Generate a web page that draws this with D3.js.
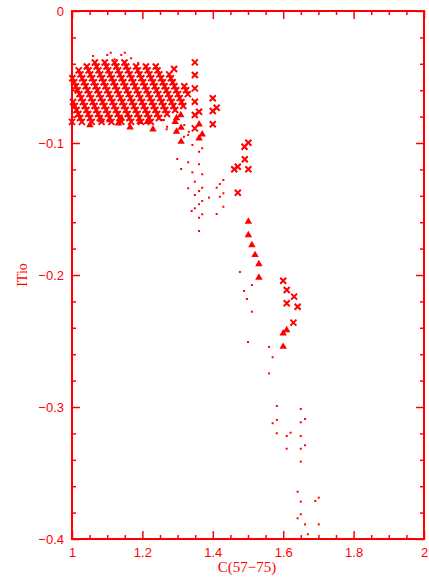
<!DOCTYPE html>
<html>
<head>
<meta charset="utf-8">
<script src="https://cdn.jsdelivr.net/npm/d3@7"></script>
<style>
  body { margin: 0; background: #fff; }
  svg { display: block; }
</style>
</head>
<body>
<div id="chart"></div>
<script>
// model grid (crosses) - one row of x values per y level
const clusterY = [-0.084, -0.081, -0.078, -0.075, -0.072, -0.069, -0.066, -0.063, -0.060, -0.057, -0.054, -0.051, -0.048, -0.045, -0.042, -0.039];
const clusterX = [
  [1.000, 1.028, 1.056, 1.084, 1.112, 1.140, 1.168, 1.196, 1.224],
  [1.023, 1.051, 1.079, 1.107, 1.135, 1.163, 1.191, 1.219, 1.247],
  [1.018, 1.046, 1.074, 1.102, 1.130, 1.158, 1.186, 1.214, 1.242, 1.270],
  [1.013, 1.041, 1.069, 1.097, 1.125, 1.153, 1.181, 1.209, 1.237, 1.265, 1.293],
  [1.008, 1.036, 1.064, 1.092, 1.120, 1.148, 1.176, 1.204, 1.232, 1.260, 1.288, 1.316],
  [1.003, 1.031, 1.059, 1.087, 1.115, 1.143, 1.171, 1.199, 1.227, 1.255, 1.283, 1.311],
  [1.026, 1.054, 1.082, 1.110, 1.138, 1.166, 1.194, 1.222, 1.250, 1.278, 1.306],
  [1.021, 1.049, 1.077, 1.105, 1.133, 1.161, 1.189, 1.217, 1.245, 1.273, 1.301, 1.329],
  [1.016, 1.044, 1.072, 1.100, 1.128, 1.156, 1.184, 1.212, 1.240, 1.268, 1.296, 1.324],
  [1.011, 1.039, 1.067, 1.095, 1.123, 1.151, 1.179, 1.207, 1.235, 1.263, 1.291, 1.319],
  [1.006, 1.034, 1.062, 1.090, 1.118, 1.146, 1.174, 1.202, 1.230, 1.258, 1.286],
  [1.001, 1.029, 1.057, 1.085, 1.113, 1.141, 1.169, 1.197, 1.225, 1.253, 1.281],
  [1.024, 1.052, 1.080, 1.108, 1.136, 1.164, 1.192, 1.220, 1.248, 1.276],
  [1.019, 1.047, 1.075, 1.103, 1.131, 1.159, 1.187, 1.215, 1.243],
  [1.042, 1.070, 1.098, 1.126, 1.154, 1.182, 1.210, 1.238],
  [1.065, 1.093, 1.121, 1.149]
];

// other crosses
const crossX = [1.290, 1.349, 1.349, 1.349, 1.349, 1.361, 1.349, 1.349, 1.400, 1.411, 1.400, 1.400,
  1.501, 1.490, 1.491, 1.471, 1.461, 1.501, 1.471, 1.600, 1.610, 1.631, 1.610, 1.641, 1.629];
const crossY = [-0.0440, -0.0389, -0.0485, -0.0586, -0.0687, -0.0763, -0.0788, -0.0889, -0.0661, -0.0733, -0.0758, -0.0858,
  -0.0998, -0.1028, -0.1123, -0.1180, -0.1199, -0.1199, -0.1377, -0.2043, -0.2114, -0.2164, -0.2214, -0.2240, -0.2361];

// triangles
const triX = [1.051, 1.083, 1.107, 1.132, 1.140, 1.165, 1.193, 1.214, 1.230, 1.293, 1.297, 1.297, 1.309, 1.310, 1.310,
  1.361, 1.370, 1.361, 1.501, 1.501, 1.511, 1.520, 1.531, 1.531, 1.610, 1.600, 1.600];
const triY = [-0.0864, -0.0826, -0.0826, -0.0851, -0.0813, -0.0881, -0.0839, -0.0839, -0.0896, -0.0839, -0.0811, -0.0914, -0.0788, -0.0884, -0.0990,
  -0.0858, -0.0934, -0.0964, -0.1596, -0.1697, -0.1773, -0.1848, -0.1917, -0.2020, -0.2417, -0.2442, -0.2543];

// small dots
const dotX = [1.060, 1.100, 1.110, 1.121, 1.140, 1.150, 1.168, 1.188,
  1.256, 1.270, 1.318, 1.332, 1.261, 1.269, 1.319, 1.330, 1.342, 1.370, 1.361, 1.299, 1.330, 1.361, 1.310, 1.342, 1.370,
  1.430, 1.420, 1.349, 1.330, 1.370, 1.411, 1.361, 1.430, 1.349, 1.420, 1.389, 1.370, 1.361, 1.430, 1.349, 1.340,
  1.411, 1.370, 1.361, 1.361,
  1.477, 1.511, 1.489, 1.497, 1.511, 1.500, 1.560, 1.570, 1.560,
  1.582, 1.650, 1.582, 1.662, 1.570, 1.650, 1.621, 1.582, 1.610, 1.650, 1.662, 1.610, 1.650, 1.650, 1.641,
  1.701, 1.650, 1.691, 1.650, 1.641, 1.701, 1.662, 1.670];
const dotY = [-0.0341, -0.0333, -0.0316, -0.0366, -0.0333, -0.0316, -0.0358, -0.0394,
  -0.0826, -0.0877, -0.0953, -0.0915, -0.0826, -0.0896, -0.0864, -0.0939, -0.1015, -0.1040, -0.1066, -0.1121, -0.1146, -0.1161, -0.1197, -0.1222, -0.1237,
  -0.1280, -0.1311, -0.1293, -0.1343, -0.1339, -0.1339, -0.1364, -0.1381, -0.1394, -0.1407, -0.1414, -0.1439, -0.1464, -0.1483, -0.1495, -0.1515,
  -0.1538, -0.1540, -0.1566, -0.1667,
  -0.1977, -0.2076, -0.2121, -0.2182, -0.2278, -0.2508, -0.2545, -0.2623, -0.2745,
  -0.2992, -0.3015, -0.3098, -0.3091, -0.3123, -0.3116, -0.3195, -0.3199, -0.3220, -0.3220, -0.3290, -0.3316, -0.3316, -0.3414, -0.3642,
  -0.3687, -0.3717, -0.3712, -0.3813, -0.3843, -0.3889, -0.3889, -0.3964];

const xMajor = [1, 1.2, 1.4, 1.6, 1.8, 2];
const xLabels = ['1', '1.2', '1.4', '1.6', '1.8', '2'];
const yMajor = [-0.4, -0.3, -0.2, -0.1, 0];
const yLabels = ['\u22120.4', '\u22120.3', '\u22120.2', '\u22120.1', '0'];

const red = '#ff0000';
const W = 429, H = 579;
const margin = { top: 11, right: 5, bottom: 40, left: 72 };

const svg = d3.select('#chart').append('svg')
  .attr('width', W)
  .attr('height', H);

const x = d3.scaleLinear().domain([1, 2]).range([margin.left, W - margin.right]);
const y = d3.scaleLinear().domain([-0.4, 0]).range([H - margin.bottom, margin.top]);

const xMinor = d3.range(20).map(i => 1 + i * 0.05).filter(v => xMajor.every(m => Math.abs(m - v) > 1e-6));
const yMinor = d3.range(20).map(i => -0.4 + i * 0.02).filter(v => yMajor.every(m => Math.abs(m - v) > 1e-6));

function styleAxis(g) {
  g.select('.domain').remove();
  g.selectAll('line').attr('stroke', red).attr('stroke-width', 1.5);
  g.selectAll('text').attr('fill', red)
    .style('font-family', '"Liberation Sans", Arial, sans-serif')
    .style('font-size', '13px');
}

const x0 = margin.left, x1 = W - margin.right;
const y0 = H - margin.bottom, y1 = margin.top;

// bottom
svg.append('g').attr('transform', `translate(0,${y0})`)
  .call(d3.axisBottom(x).tickValues(xMajor).tickSize(-8).tickPadding(9).tickFormat((d, i) => xLabels[i]))
  .call(styleAxis);
svg.append('g').attr('transform', `translate(0,${y0})`)
  .call(d3.axisBottom(x).tickValues(xMinor).tickSize(-4).tickFormat(''))
  .call(styleAxis);
// top
svg.append('g').attr('transform', `translate(0,${y1})`)
  .call(d3.axisTop(x).tickValues(xMajor).tickSize(-8).tickFormat(''))
  .call(styleAxis);
svg.append('g').attr('transform', `translate(0,${y1})`)
  .call(d3.axisTop(x).tickValues(xMinor).tickSize(-4).tickFormat(''))
  .call(styleAxis);
// left
svg.append('g').attr('transform', `translate(${x0},0)`)
  .call(d3.axisLeft(y).tickValues(yMajor).tickSize(-8).tickPadding(8).tickFormat((d, i) => yLabels[i]))
  .call(styleAxis);
svg.append('g').attr('transform', `translate(${x0},0)`)
  .call(d3.axisLeft(y).tickValues(yMinor).tickSize(-4).tickFormat(''))
  .call(styleAxis);
// right
svg.append('g').attr('transform', `translate(${x1},0)`)
  .call(d3.axisRight(y).tickValues(yMajor).tickSize(-8).tickFormat(''))
  .call(styleAxis);
svg.append('g').attr('transform', `translate(${x1},0)`)
  .call(d3.axisRight(y).tickValues(yMinor).tickSize(-4).tickFormat(''))
  .call(styleAxis);

svg.append('rect')
  .attr('x', x0).attr('y', y1)
  .attr('width', x1 - x0).attr('height', y0 - y1)
  .attr('fill', 'none').attr('stroke', red).attr('stroke-width', 2);

// axis titles
svg.append('text')
  .attr('x', (x0 + x1) / 2 - 1).attr('y', 572)
  .attr('text-anchor', 'middle')
  .attr('fill', red)
  .style('font-family', '"Liberation Serif", "DejaVu Serif", serif')
  .style('font-size', '15px')
  .text('C(57\u221275)');

svg.append('text')
  .attr('transform', `translate(27,275) rotate(-90)`)
  .attr('text-anchor', 'middle')
  .attr('fill', red)
  .style('font-family', '"Liberation Serif", "DejaVu Serif", serif')
  .style('font-size', '14px')
  .text('ITio');

// data
const grid = clusterY.flatMap((yy, i) => clusterX[i].map(xx => ({ x: xx, y: yy })));
const crosses = grid.concat(crossX.map((d, i) => ({ x: d, y: crossY[i] })));
const tris = triX.map((d, i) => ({ x: d, y: triY[i] }));
const dots = dotX.map((d, i) => ({ x: d, y: dotY[i] }));

svg.append('g').selectAll('rect')
  .data(dots)
  .enter()
  .append('rect')
  .attr('x', d => x(d.x) - 1)
  .attr('y', d => y(d.y) - 1)
  .attr('width', 2)
  .attr('height', 2)
  .attr('fill', red);

svg.append('g').selectAll('path')
  .data(tris)
  .enter()
  .append('path')
  .attr('transform', d => `translate(${x(d.x)},${y(d.y)})`)
  .attr('d', d3.symbol(d3.symbolTriangle, 24))
  .attr('fill', red);

svg.append('g').selectAll('path')
  .data(crosses)
  .enter()
  .append('path')
  .attr('transform', d => `translate(${x(d.x)},${y(d.y)})`)
  .attr('d', 'M-3,-3L3,3M-3,3L3,-3')
  .attr('stroke', red)
  .attr('stroke-width', 2)
  .attr('fill', 'none');
</script>
</body>
</html>
